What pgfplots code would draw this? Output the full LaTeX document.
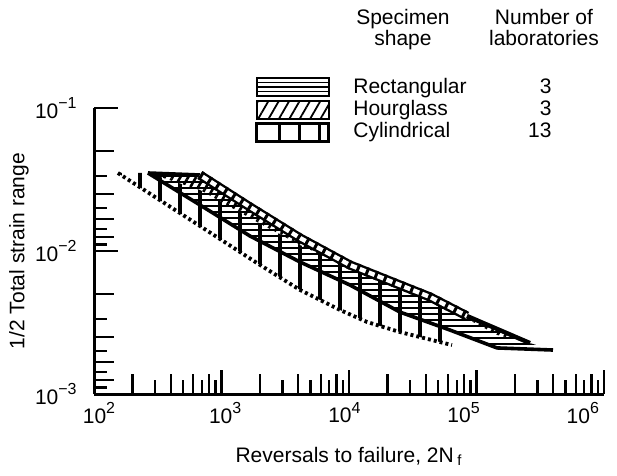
\documentclass[border=0pt]{standalone}
\usepackage{pgfplots}
\pgfplotsset{compat=1.18}
\usepackage{fontspec}
\setmainfont{Liberation Sans}
\usetikzlibrary{patterns.meta}
\newcommand\f{\fontsize{10.5}{12.6}\selectfont}
\newcommand\sups[1]{\raisebox{0.85ex}{\fontsize{8}{9}\selectfont #1}}
\begin{document}
\begin{tikzpicture}[font=\f]
\path (-47pt,-41pt) rectangle (261.5pt,197pt);
\begin{axis}[
  scale only axis, width=255pt, height=143pt,
  xmode=log, ymode=log,
  xmin=100, xmax=1e6, ymin=1e-3, ymax=1e-1,
  axis lines=left, axis line style={-, line width=1.5pt},
  tick align=inside,
  major tick length=12pt, minor tick length=10pt,
  tick style={black, line width=1.2pt},
  xtick={100,1000,10000,100000,1000000},
  xticklabels={10\sups{2},10\sups{3},10\sups{4},10\sups{5},10\sups{6}},
  xticklabel style={inner sep=0pt, yshift=-4pt, xshift={2.5pt-4.15pt*\ticknum+3.5pt*(\ticknum>0)}},
  minor xtick={200,400,600,800,2000,4000,6000,8000,20000,40000,60000,80000,200000,400000,600000,800000},
  extra x ticks={300,500,700,900,3000,5000,7000,9000,30000,50000,70000,90000,300000,500000,700000,900000},
  extra x tick style={major tick length=7pt, xticklabel={}, grid=none},
  ytick={0.001,0.01,0.1},
  yticklabels={10\sups{−3},10\sups{−2},10\sups{−1}},
  minor ytick={0.05,0.025,0.0166667,0.0125,0.005,0.0025,0.00166667,0.00125},
  extra y ticks={0.0333333,0.02,0.0142857,0.0111111,0.00333333,0.002,0.00142857,0.00111111},
  extra y tick style={major tick length=6.5pt, yticklabel={}, grid=none},
  yticklabel style={inner sep=0pt, xshift=-8.5pt},
  xlabel={Reversals to failure, 2N\,\textsubscript{f}},
  ylabel={1/2 Total strain range},
  xlabel style={at={(axis description cs:0.5,-0.2378)}, anchor=base, inner sep=0pt},
  ylabel style={at={(axis description cs:-0.147,0.5)}, anchor=center, inner sep=0pt},
]
% Rectangular band (horizontal lines): top T, bottom D
\addplot[draw=none, pattern={Lines[angle=0,distance=3pt,line width=1pt]}] coordinates {
 (265,0.03512) (678,0.0340) (1673,0.02031) (4128,0.01233) (10180,0.00798) (25120,0.00578)
 (43180,0.00477) (84240,0.00351) (262800,0.00227) (398100,0.00203)
 (144800,0.0021) (61960,0.0028) (25120,0.00374) (10180,0.00578) (4128,0.00838)
 (1673,0.01273) (678,0.02098) (265,0.03512)} -- cycle;
% Hourglass band (diagonal hatch): top T, bottom H
\addplot[draw=none, pattern={Lines[angle=60,distance=3.4pt,line width=1.3pt]}] coordinates {
 (265,0.03512) (678,0.0340) (1673,0.02031) (4128,0.01233) (10180,0.00798) (25120,0.00578)
 (43180,0.00477) (84240,0.00351) (262800,0.00227)
 (144800,0.00259) (54610,0.00413) (25120,0.00534) (11770,0.00713) (4128,0.01101)
 (1898,0.01595) (678,0.02671) (265,0.03512)} -- cycle;
% Cylindrical band (vertical lines): top H, bottom L
\addplot[draw=none, pattern={Lines[angle=90,distance=10pt,line width=1.7pt]}] coordinates {
 (265,0.03512) (678,0.02671) (1898,0.01595) (4128,0.01101) (11770,0.00713) (25120,0.00534)
 (54610,0.00413) (64240,0.0022)
 (25120,0.00271) (13840,0.00319) (8500,0.00387) (4128,0.00534) (1898,0.00824)
 (678,0.01495) (154,0.03512)} -- cycle;
% Boundary lines
\addplot[black, line width=1.8pt] coordinates {
 (265,0.03512) (678,0.02098) (1673,0.01273) (4128,0.00838) (10180,0.00578)
 (25120,0.00374) (61960,0.0028) (144800,0.0021) (398100,0.00203)};
\addplot[black, line width=1.8pt] coordinates {(265,0.03512) (678,0.0340)};
\addplot[black, line width=1.2pt, double, double distance=2.2pt] coordinates {
 (678,0.0340) (1673,0.02031) (4128,0.01233) (10180,0.00798) (25120,0.00578)
 (43180,0.00477) (84240,0.00351)};
\addplot[black, line width=4.6pt, dash pattern=on 1.5pt off 3.3pt] coordinates {
 (678,0.0340) (1673,0.02031) (4128,0.01233) (10180,0.00798) (25120,0.00578)
 (43180,0.00477) (84240,0.00351)};
\addplot[black, line width=2.2pt] coordinates {(84240,0.00351) (262800,0.00227)};
\addplot[black, line width=1.9pt, dash pattern=on 1.5pt off 1.5pt] coordinates {
 (154,0.03512) (678,0.01495) (1898,0.00824) (4128,0.00534) (8500,0.00387)
 (13840,0.00319) (25120,0.00271) (64240,0.0022)};
\end{axis}
% Legend
\node[anchor=base, inner sep=0pt] at (154.5pt,184.5pt) {Specimen};
\node[anchor=base, inner sep=0pt] at (154.5pt,174pt) {shape};
\node[anchor=base, inner sep=0pt] at (225pt,184.5pt) {Number of};
\node[anchor=base, inner sep=0pt] at (225pt,174pt) {laboratories};
\draw[line width=1.3pt] (81.5pt,149pt) rectangle (117.5pt,158pt);
\draw[line width=0.6pt] (81.5pt,155.8pt) -- (117.5pt,155.8pt);
\draw[line width=1.2pt] (81.5pt,153.5pt) -- (117.5pt,153.5pt);
\draw[line width=0.6pt] (81.5pt,151.3pt) -- (117.5pt,151.3pt);
\draw[line width=1.3pt, pattern={Lines[angle=60,distance=4.5pt,line width=0.9pt]}] (81.5pt,137.5pt) rectangle (117.5pt,146.5pt);
\draw[line width=1.5pt] (81.5pt,126pt) rectangle (117.5pt,135pt);
\draw[line width=1.5pt] (93pt,126pt) -- (93pt,135pt) (103pt,126pt) -- (103pt,135pt) (113pt,126pt) -- (113pt,135pt);
\node[anchor=base west, inner sep=0pt] at (129.5pt,150pt) {Rectangular};
\node[anchor=base west, inner sep=0pt] at (129.5pt,139pt) {Hourglass};
\node[anchor=base west, inner sep=0pt] at (129.5pt,128pt) {Cylindrical};
\node[anchor=base east, inner sep=0pt] at (229pt,150pt) {3};
\node[anchor=base east, inner sep=0pt] at (229pt,139pt) {3};
\node[anchor=base east, inner sep=0pt] at (229pt,128pt) {13};
\end{tikzpicture}
\end{document}
